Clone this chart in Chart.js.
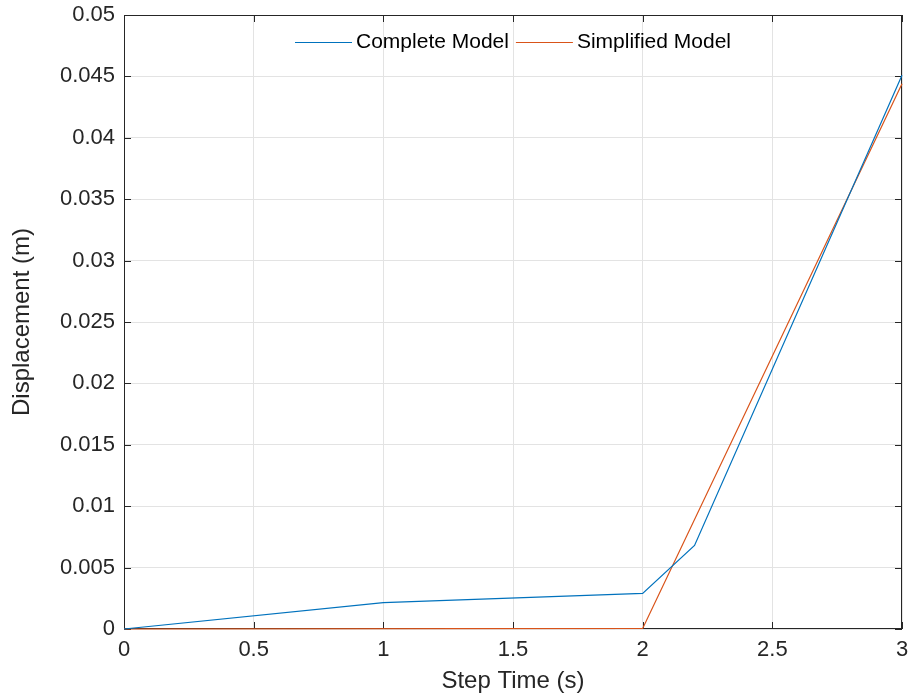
<!DOCTYPE html>
<html>
<head>
<meta charset="utf-8">
<script src="https://cdn.jsdelivr.net/npm/chart.js@4"></script>
<style>
  html, body { margin: 0; padding: 0; background: #fff; }
  #wrap { width: 912px; height: 698px; }
</style>
</head>
<body>
<div id="wrap"><canvas id="myChart" width="912" height="698"></canvas></div>
<script>
const stepTimes = [0, 1, 2, 2.2, 3];
const completeModel = [0, 0.00215, 0.0029, 0.0068, 0.0451];
const simplifiedTimes = [0, 2, 3];
const simplifiedModel = [0, 0.00005, 0.0444];
const xTicks = [0, 0.5, 1, 1.5, 2, 2.5, 3];
const yTicks = [0, 0.005, 0.01, 0.015, 0.02, 0.025, 0.03, 0.035, 0.04, 0.045, 0.05];

const font = "'Liberation Sans', Arial, Helvetica, sans-serif";
const axisColor = '#262626';

function toPoints(xs, ys) {
    return xs.map((x, i) => ({ x: x, y: ys[i] }));
}

// box around the plot + inward tick marks (matlab style), drawn under the lines
const boxPlugin = {
    id: 'boxPlugin',
    beforeDatasetsDraw(chart) {
        const { ctx, chartArea: a, scales } = chart;
        ctx.save();
        ctx.strokeStyle = axisColor;
        ctx.lineWidth = 1;
        ctx.strokeRect(a.left + 0.5, a.top + 0.5, a.right - a.left - 1, a.bottom - a.top - 1);
        ctx.beginPath();
        const len = 7;
        xTicks.forEach(v => {
            const px = Math.round(scales.x.getPixelForValue(v)) + 0.5;
            ctx.moveTo(px, a.bottom); ctx.lineTo(px, a.bottom - len);
            ctx.moveTo(px, a.top); ctx.lineTo(px, a.top + len);
        });
        yTicks.forEach(v => {
            const py = Math.round(scales.y.getPixelForValue(v)) + 0.5;
            ctx.moveTo(a.left, py); ctx.lineTo(a.left + len, py);
            ctx.moveTo(a.right, py); ctx.lineTo(a.right - len, py);
        });
        ctx.stroke();
        ctx.restore();
    },
    afterDatasetsDraw(chart) {
        // legend inside the axes, top centre
        const { ctx, chartArea: a } = chart;
        ctx.save();
        ctx.font = '21px ' + font;
        ctx.textBaseline = 'middle';
        ctx.lineWidth = 1;
        const sample = 57, gap = 4, between = 7;
        const items = chart.data.datasets.map(d => ({ label: d.label, color: d.borderColor, w: ctx.measureText(d.label).width }));
        let total = 0;
        items.forEach((it, i) => { total += sample + gap + it.w + (i < items.length - 1 ? between : 0); });
        let x = (a.left + a.right) / 2 - total / 2;
        const y = 42;
        items.forEach(it => {
            ctx.strokeStyle = it.color;
            ctx.beginPath();
            ctx.moveTo(x, y + 0.5); ctx.lineTo(x + sample, y + 0.5);
            ctx.stroke();
            x += sample + gap;
            ctx.fillStyle = '#000';
            ctx.textAlign = 'left';
            ctx.fillText(it.label, x, y);
            x += it.w + between;
        });
        ctx.restore();
    }
};

const ctx = document.getElementById('myChart').getContext('2d');
const myChart = new Chart(ctx, {
    type: 'line',
    data: {
        datasets: [{
            label: 'Complete Model',
            data: toPoints(stepTimes, completeModel),
            borderColor: '#0072BD',
            borderWidth: 1.2,
            pointRadius: 0,
            tension: 0,
            clip: 2
        }, {
            label: 'Simplified Model',
            data: toPoints(simplifiedTimes, simplifiedModel),
            borderColor: '#D95319',
            borderWidth: 1.2,
            pointRadius: 0,
            tension: 0,
            clip: 2
        }]
    },
    options: {
        responsive: false,
        animation: false,
        layout: { padding: { top: 15, right: 10, left: 0, bottom: 0 } },
        plugins: { legend: { display: false }, tooltip: { enabled: false } },
        scales: {
            x: {
                type: 'linear',
                min: 0, max: 3,
                afterBuildTicks: s => { s.ticks = xTicks.map(v => ({ value: v })); },
                afterFit: s => { s.height = 69; s.paddingLeft = 0; s.paddingRight = 0; },
                grid: { color: '#e3e3e3', drawTicks: false },
                border: { display: false },
                ticks: {
                    color: axisColor, padding: 8,
                    font: { family: font, size: 22 },
                    callback: v => String(v)
                },
                title: {
                    display: true, text: 'Step Time (s)', color: axisColor,
                    font: { family: font, size: 24 }, padding: { top: 0, bottom: 2 }
                }
            },
            y: {
                min: 0, max: 0.05,
                afterBuildTicks: s => { s.ticks = yTicks.map(v => ({ value: v })); },
                afterFit: s => { s.width = 124; s.paddingTop = 0; s.paddingBottom = 0; },
                grid: { color: '#e3e3e3', drawTicks: false },
                border: { display: false },
                ticks: {
                    color: axisColor, padding: 9,
                    font: { family: font, size: 22 },
                    callback: v => String(parseFloat(v.toFixed(4)))
                },
                title: {
                    display: true, text: 'Displacement (m)', color: axisColor,
                    font: { family: font, size: 24 }, padding: { top: 8, bottom: 0 }
                }
            }
        }
    },
    plugins: [boxPlugin]
});
</script>
</body>
</html>
